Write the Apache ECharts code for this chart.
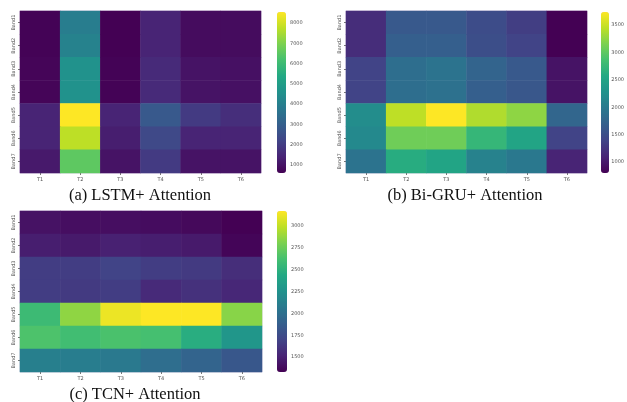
<!DOCTYPE html>
<html>
<head>
<meta charset="utf-8">
<script src="https://cdn.jsdelivr.net/npm/echarts@6/dist/echarts.min.js"></script>
<style>html,body{margin:0;padding:0;background:#fff;}#c{width:627px;height:402px;}</style>
</head>
<body>
<div id="c"></div>
<script>
const times = ['T1','T2','T3','T4','T5','T6'];
const bands = ['Band1','Band2','Band3','Band4','Band5','Band6','Band7'];

// rows = bands, columns = T1..T6
const lstmValues = [
  [650, 3940, 600, 1400, 850, 850],
  [650, 4100, 600, 1400, 850, 850],
  [700, 4600, 650, 1550, 1000, 950],
  [700, 4600, 650, 1550, 1000, 950],
  [1400, 8550, 1400, 2800, 1950, 1650],
  [1400, 7750, 1250, 2350, 1400, 1400],
  [1150, 6550, 1000, 1950, 1000, 1000]
];
const bigruValues = [
  [1180, 1620, 1620, 1480, 1330, 800],
  [1180, 1680, 1680, 1500, 1390, 800],
  [1390, 1860, 1920, 1740, 1620, 950],
  [1390, 1860, 1890, 1680, 1590, 950],
  [2220, 3450, 3740, 3390, 3240, 1770],
  [2180, 3090, 3090, 2740, 2510, 1390],
  [1920, 2620, 2510, 2090, 1980, 1090]
];
const tcnValues = [
  [1420, 1400, 1400, 1390, 1370, 1330],
  [1480, 1460, 1500, 1480, 1460, 1350],
  [1660, 1660, 1700, 1660, 1640, 1570],
  [1660, 1640, 1660, 1550, 1590, 1530],
  [2580, 2860, 3120, 3170, 3170, 2840],
  [2650, 2600, 2640, 2620, 2470, 2290],
  [2120, 2100, 2070, 1990, 1920, 1830]
];
const lstmTicks = [1000,2000,3000,4000,5000,6000,7000,8000];
const bigruTicks = [1000,1500,2000,2500,3000,3500];
const tcnTicks = [1500,1750,2000,2250,2500,2750,3000];
const captions = ['(a) LSTM+ Attention','(b) Bi-GRU+ Attention','(c) TCN+ Attention'];

const viridis = ['#440154','#482475','#414487','#355f8d','#2a788e','#21918c','#22a884','#44bf70','#7ad151','#bddf26','#fde725'];

function toData(m){
  const out=[];
  m.forEach((row,r)=>row.forEach((v,c)=>out.push([c,r,v])));
  return out;
}
function minMax(m){
  const f=m.flat();return [Math.min(...f),Math.max(...f)];
}
const sets=[lstmValues,bigruValues,tcnValues];
const ticks=[lstmTicks,bigruTicks,tcnTicks];
const grids=[
  {left:20,top:11,width:241,height:162},
  {left:346,top:11,width:241,height:162},
  {left:20,top:211,width:242,height:161}
];
const bars=[
  {left:277,top:12,width:9,height:161},
  {left:601,top:12,width:8,height:161},
  {left:277,top:211,width:10,height:161}
];
const capPos=[{x:140,y:187},{x:465,y:187},{x:135,y:386}];

const option={
  animation:false,
  backgroundColor:'#fff',
  title:captions.map((t,i)=>({text:t,left:capPos[i].x,top:capPos[i].y,textAlign:'center',padding:0,
    textStyle:{fontFamily:'Liberation Serif',fontSize:16.5,fontWeight:'normal',color:'#111'}})),
  grid:[],xAxis:[],yAxis:[],visualMap:[],series:[]
};
const lbl={fontSize:5,color:'#555',fontFamily:'DejaVu Sans'};
for(let i=0;i<3;i++){
  const [mn,mx]=minMax(sets[i]);
  const g=grids[i];
  option.grid.push({left:g.left,top:g.top,width:g.width,height:g.height,show:true,borderColor:'#dccfe6',borderWidth:1,backgroundColor:'transparent'});
  option.xAxis.push({type:'category',gridIndex:i,data:times,
    axisLine:{show:false},axisTick:{show:true,length:2,lineStyle:{color:'#777'},alignWithLabel:true},
    axisLabel:Object.assign({margin:4},lbl),splitLine:{show:false},splitArea:{show:false}});
  option.yAxis.push({type:'category',gridIndex:i,data:bands,inverse:true,
    axisLine:{show:false},axisTick:{show:true,length:2,lineStyle:{color:'#777'},alignWithLabel:true},
    axisLabel:Object.assign({rotate:90,margin:4},lbl),splitLine:{show:false},splitArea:{show:false}});
  option.series.push({type:'heatmap',xAxisIndex:i,yAxisIndex:i,data:toData(sets[i]),
    itemStyle:{borderWidth:0},emphasis:{disabled:true}});
  const b=bars[i];
  option.visualMap.push({type:'continuous',seriesIndex:i,min:mn,max:mx,calculable:false,
    orient:'vertical',left:b.left,top:b.top,itemWidth:b.width,itemHeight:b.height,padding:0,
    text:['',''],showLabel:false,inRange:{color:viridis},hoverLink:false});
}
// colorbar tick axes
for(let i=0;i<3;i++){
  const [mn,mx]=minMax(sets[i]);
  const b=bars[i];
  option.grid.push({left:b.left,top:b.top,width:b.width,height:b.height,show:false});
  option.xAxis.push({type:'value',gridIndex:3+i,show:false,min:0,max:1});
  option.yAxis.push({type:'value',gridIndex:3+i,position:'right',min:mn,max:mx,
    axisLine:{show:false},splitLine:{show:false},
    axisTick:{show:true,length:2,lineStyle:{color:'#777'},customValues:ticks[i]},
    axisLabel:Object.assign({margin:4,customValues:ticks[i],formatter:v=>String(v)},lbl)});
}
const chart=echarts.init(document.getElementById('c'),null,{renderer:'canvas'});
chart.setOption(option);
</script>
</body>
</html>
